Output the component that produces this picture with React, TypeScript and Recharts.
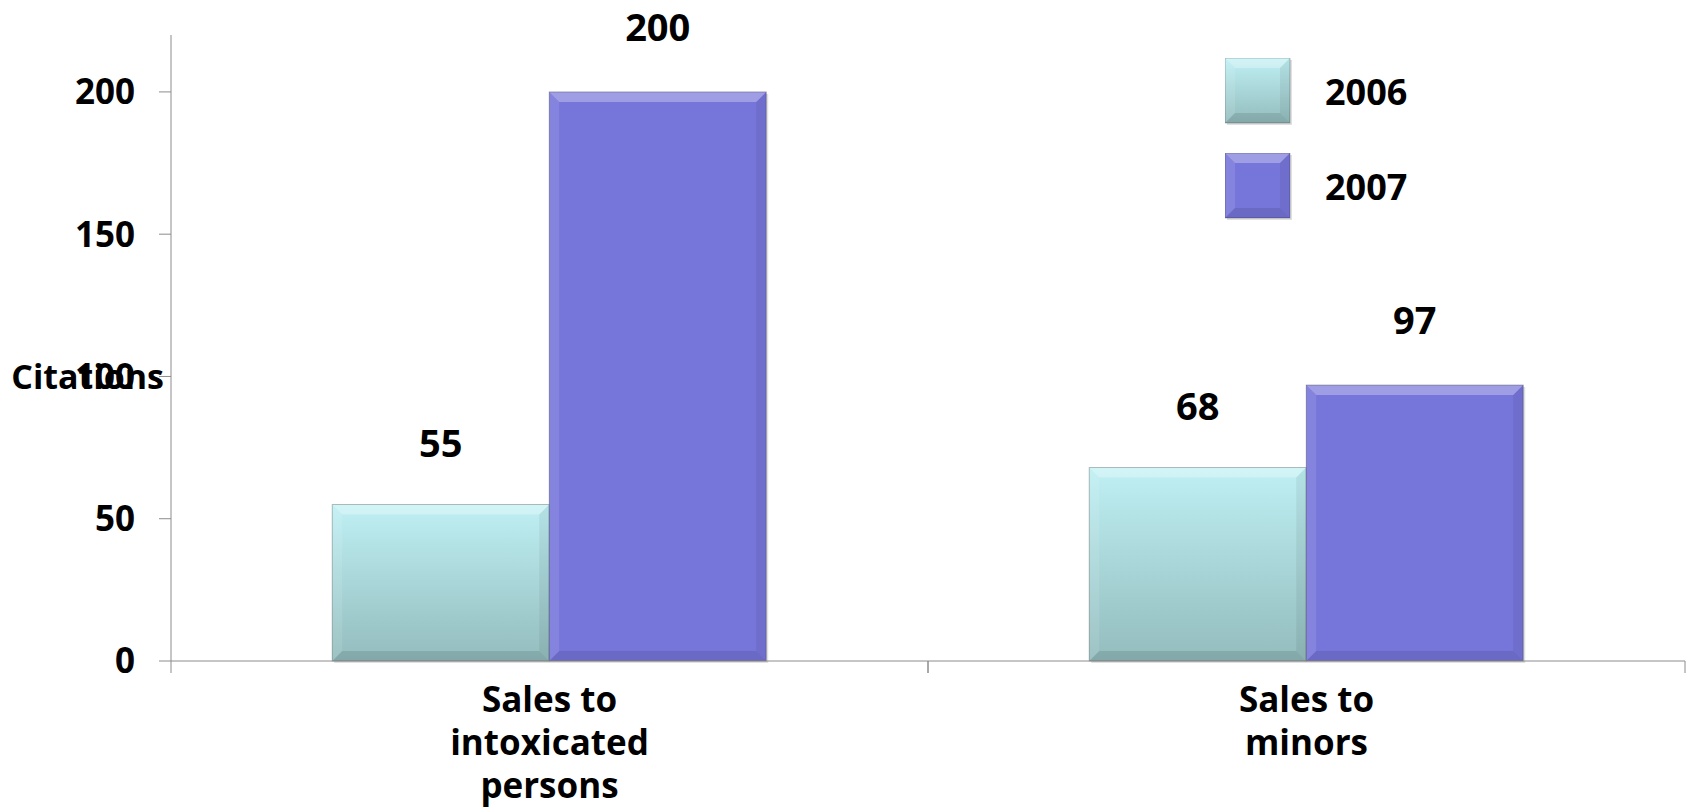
import { Bar, BarChart, LabelList, Legend, ReferenceLine, XAxis, YAxis } from "recharts"

const categories = ["Sales to\nintoxicated\npersons", "Sales to\nminors"]
const citations2006 = [55, 68]
const citations2007 = [200, 97]
const yTicks = [0, 50, 100, 150, 200]

const data = categories.map((category, i) => ({
  category,
  y2006: citations2006[i],
  y2007: citations2007[i],
}))

const font = '"Open Sans", sans-serif'
const axisGray = "#8c8c8c"

// bevelled bar like the office "3-D" preset
function Bevel({ x, y, width, height, variant, id }: any) {
  if (!width || !height || height <= 0) return null
  const b = Math.min(10, width / 4, height / 4)
  const fill = variant === "y2006" ? `url(#grad-${id})` : "#7675da"
  return (
    <g>
      <defs>
        <linearGradient id={`grad-${id}`} x1="0" y1="0" x2="0" y2="1">
          <stop offset="0%" stopColor="#bff0f4" />
          <stop offset="100%" stopColor="#93bcbd" />
        </linearGradient>
      </defs>
      <rect x={x + 2} y={y + 2} width={width} height={height} fill="#000" opacity={0.12} />
      <rect x={x} y={y} width={width} height={height} fill={fill} />
      <polygon points={`${x},${y} ${x + width},${y} ${x + width - b},${y + b} ${x + b},${y + b}`} fill="#fff" opacity={0.3} />
      <polygon points={`${x},${y} ${x + b},${y + b} ${x + b},${y + height - b} ${x},${y + height}`} fill="#fff" opacity={0.1} />
      <polygon points={`${x + width},${y} ${x + width - b},${y + b} ${x + width - b},${y + height - b} ${x + width},${y + height}`} fill="#000" opacity={0.06} />
      <polygon points={`${x},${y + height} ${x + b},${y + height - b} ${x + width - b},${y + height - b} ${x + width},${y + height}`} fill="#000" opacity={0.1} />
      <rect x={x} y={y} width={width} height={height} fill="none" stroke="#000" strokeOpacity={0.25} strokeWidth={1} />
    </g>
  )
}

function CategoryTick({ x, y, payload }: any) {
  const half = payload.offset ?? 0
  const lines = String(payload.value).split("\n")
  return (
    <g>
      <line x1={x - half} y1={y} x2={x - half} y2={y + 12} stroke={axisGray} />
      <line x1={x + half} y1={y} x2={x + half} y2={y + 12} stroke={axisGray} />
      <text x={x} y={y + 51} textAnchor="middle" fill="#000" fontSize={35} fontWeight={700} fontFamily={font}>
        {lines.map((line, i) => (
          <tspan key={i} x={x} dy={i === 0 ? 0 : 43}>
            {line}
          </tspan>
        ))}
      </text>
    </g>
  )
}

function renderLegend(props: any) {
  const { payload } = props
  return (
    <div style={{ display: "flex", flexDirection: "column", gap: 30 }}>
      {payload.map((entry: any) => (
        <div key={entry.value} style={{ display: "flex", alignItems: "center", height: 65 }}>
          <svg width={68} height={68}>
            <Bevel x={0} y={0} width={65} height={65} variant={entry.dataKey} id={`lg-${entry.dataKey}`} />
          </svg>
          <span style={{ marginLeft: 32, fontSize: 36, fontWeight: 700, fontFamily: font, color: "#000" }}>
            {entry.value}
          </span>
        </div>
      ))}
    </div>
  )
}

export default function App() {
  return (
    <div style={{ position: "absolute", left: 0, top: 0, background: "#fff" }}>
      <BarChart
        width={1692}
        height={809}
        data={data}
        margin={{ top: 35, right: 7, bottom: 8, left: 0 }}
        barCategoryGap="21.3%"
        barGap={0}
      >
        <XAxis
          dataKey="category"
          interval={0}
          height={140}
          tickSize={0}
          tickMargin={0}
          tickLine={false}
          axisLine={{ stroke: axisGray }}
          tick={<CategoryTick />}
        />
        <YAxis
          width={171}
          domain={[0, 220]}
          ticks={yTicks}
          tickSize={12}
          tickMargin={24}
          axisLine={{ stroke: axisGray }}
          tickLine={{ stroke: axisGray }}
          tick={{ fill: "#000", fontSize: 35, fontWeight: 700, fontFamily: font }}
        />
        <ReferenceLine
          y={100}
          stroke="none"
          label={{ value: "Citations", position: "left", offset: 7, fill: "#000", fontSize: 34, fontWeight: 700, fontFamily: font }}
        />
        <Legend
          layout="vertical"
          align="center"
          verticalAlign="middle"
          content={renderLegend}
          wrapperStyle={{ top: 59, left: 1225, width: "auto", height: "auto" }}
        />
        <Bar
          dataKey="y2006"
          name="2006"
          fill="#aad8da"
          isAnimationActive={false}
          shape={(p: any) => <Bevel {...p} variant="y2006" id={`b06-${p.index}`} />}
        >
          <LabelList dataKey="y2006" position="top" offset={48} fill="#000" fontSize={38} fontWeight={700} fontFamily={font} />
        </Bar>
        <Bar
          dataKey="y2007"
          name="2007"
          fill="#7675da"
          isAnimationActive={false}
          shape={(p: any) => <Bevel {...p} variant="y2007" id={`b07-${p.index}`} />}
        >
          <LabelList dataKey="y2007" position="top" offset={51} fill="#000" fontSize={38} fontWeight={700} fontFamily={font} />
        </Bar>
      </BarChart>
    </div>
  )
}
